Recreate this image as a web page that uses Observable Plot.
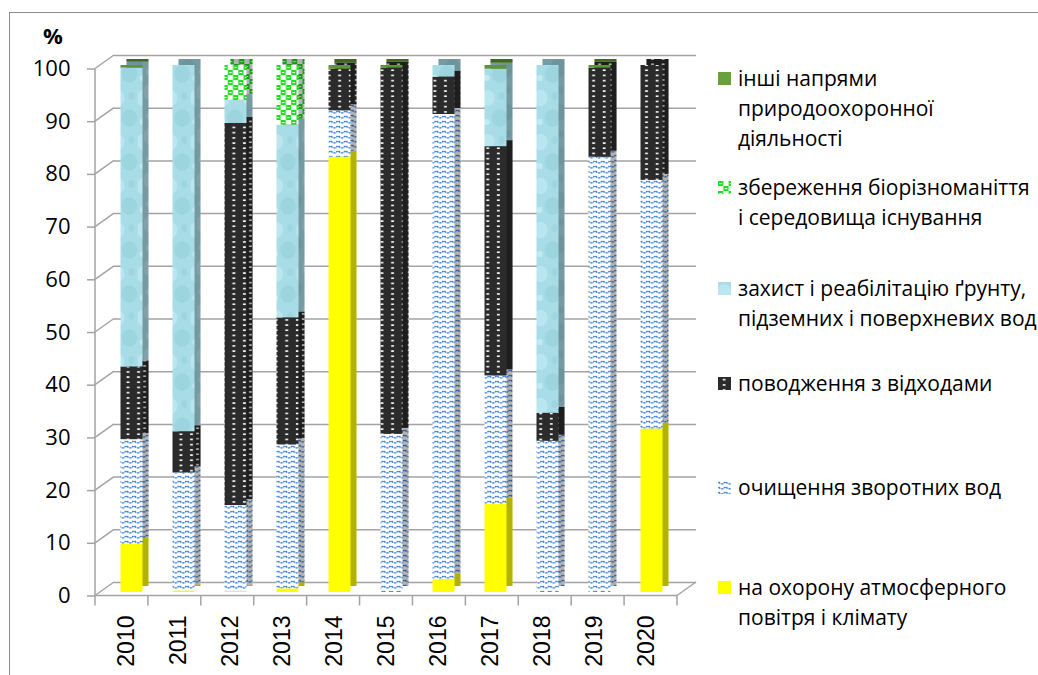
<!DOCTYPE html>
<html>
<head>
<meta charset="utf-8">
<script src="https://cdn.jsdelivr.net/npm/d3@7"></script>
<script src="https://cdn.jsdelivr.net/npm/@observablehq/plot@0.6"></script>
<style>
  html, body { margin: 0; padding: 0; overflow: hidden; background: #fff; }
  #wrap { position: relative; width: 1038px; height: 675px; overflow: hidden; }
  #wrap svg.chart { position: absolute; left: 0; top: 0; }
  .unit { position: absolute; left: 43px; top: 20px; font: bold 22px "Open Sans", sans-serif; color: #000; }
  .leg { position: absolute; left: 718px; font: 21px "Open Sans", sans-serif; color: #000; line-height: 30px; white-space: nowrap; }
  .leg svg { position: absolute; left: 0; top: 9px; }
  .leg .txt { position: absolute; left: 20px; top: 0; }
  .border { position: absolute; left: 9px; top: 12px; width: 1100px; height: 800px; border-left: 1px solid #8c8c8c; border-top: 1px solid #8c8c8c; }
</style>
</head>
<body>
<div id="wrap"><div class="border"></div></div>
<script>
// ---- data ----
const years = ["2010","2011","2012","2013","2014","2015","2016","2017","2018","2019","2020"];
const seriesNames = [
  "на охорону атмосферного повітря і клімату",
  "очищення зворотних вод",
  "поводження з відходами",
  "захист і реабілітацію ґрунту, підземних і поверхневих вод",
  "збереження біорізноманіття і середовища існування",
  "інші напрями природоохоронної діяльності"
];
const atmosphere   = [9.1, 0.3, 0.2, 0.7, 82.6, 0.0, 2.4, 16.7, 0.0, 0.0, 31.0];
const wastewater   = [19.9, 22.4, 16.3, 27.3, 8.8, 30.0, 88.3, 24.4, 28.7, 82.6, 47.2];
const waste        = [13.8, 7.8, 72.5, 24.1, 7.9, 69.5, 7.1, 43.5, 5.3, 16.9, 21.8];
const soilWater    = [56.7, 69.5, 4.4, 36.6, 0.0, 0.0, 2.2, 14.7, 66.0, 0.0, 0.0];
const biodiversity = [0.0, 0.0, 6.6, 11.3, 0.0, 0.0, 0.0, 0.0, 0.0, 0.0, 0.0];
const other        = [0.5, 0.0, 0.0, 0.0, 0.7, 0.5, 0.0, 0.7, 0.0, 0.5, 0.0];
const yTicks = [0,10,20,30,40,50,60,70,80,90,100];
const legendLines = [
  ["інші напрями", "природоохоронної", "діяльності"],
  ["збереження біорізноманіття", "і середовища існування"],
  ["захист і реабілітацію ґрунту,", "підземних і поверхневих вод"],
  ["поводження з відходами"],
  ["очищення зворотних вод"],
  ["на охорону атмосферного", "повітря і клімату"]
];
const seriesValues = [atmosphere, wastewater, waste, soilWater, biodiversity, other];
const fills = ["#ffff00", "url(#pWater)", "url(#pWaste)", "url(#pSoil)", "url(#pBio)", "#5e9437"];

const rows = years.flatMap((yr, i) => seriesNames.map((s, j) => ({year: yr, series: s, value: seriesValues[j][i]})));

// ---- layout ----
const W = 1038, H = 675;
const mL = 95, mR = 361, mT = 65, mB = 83;
const depthX = 19, depthY = -10, frontDy = 3.5;
const barShift = 5.5, barDepth = 6;
const grid = "#a3a3a3";
const step = (W - mL - mR) / years.length;

const plot = Plot.plot({
  width: W, height: H,
  marginLeft: mL, marginRight: mR, marginTop: mT, marginBottom: mB,
  x: {domain: years, paddingInner: 0.584, paddingOuter: 0.292, label: null},
  y: {domain: [0, 100], label: null},
  color: {domain: seriesNames, range: fills},
  marks: [
    Plot.ruleY(yTicks, {y: d => d, dx: depthX, dy: depthY, stroke: grid, strokeWidth: 1.5}),
    Plot.barY(rows, {x: "year", y: "value", fill: "series", dx: barShift + barDepth, dy: -barDepth}),
    Plot.barY(rows, {x: "year", y: "value", z: "series", fill: "#000", fillOpacity: 0.3, dx: barShift + barDepth, dy: -barDepth}),
    Plot.barY(rows, {x: "year", y: "value", fill: "series", dx: barShift}),
    Plot.axisY({ticks: yTicks, tickSize: 8, tickPadding: 17, dy: frontDy, stroke: grid, strokeWidth: 1.5,
                fontSize: 22, fontFamily: "Open Sans", fill: "#000", label: null}),
    Plot.axisX({tickSize: 0, tickRotate: -90, tickPadding: 23, fontSize: 23, fontFamily: "Liberation Sans", fill: "#000", label: null})
  ]
});
plot.classList.add("chart");
plot.style.overflow = "visible";

// pattern definitions
const svg = d3.select(plot);
const defs = svg.insert("defs", ":first-child");
{
  const pw = step / 7, ph = 5;
  const p = defs.append("pattern").attr("id", "pWater").attr("patternUnits", "userSpaceOnUse").attr("width", pw).attr("height", ph);
  p.append("rect").attr("width", pw).attr("height", ph).attr("fill", "#fff");
  p.append("path").attr("d", `M0.5,1.0 Q${pw/2},4.8 ${pw-0.5},1.0`).attr("fill", "none")
    .attr("stroke", "#1f6fd0").attr("stroke-width", 1.3).attr("stroke-dasharray", "2.2,0.9");
}
{
  const pw = step / 5, ph = 5.2;
  const p = defs.append("pattern").attr("id", "pWaste").attr("patternUnits", "userSpaceOnUse").attr("width", pw).attr("height", ph);
  p.append("rect").attr("width", pw).attr("height", ph).attr("fill", "#2b2b2b");
  p.append("rect").attr("x", 4.7).attr("y", 1.9).attr("width", 2.8).attr("height", 1.6).attr("fill", "#ffffff");
}
{
  const pw = step / 2;
  const p = defs.append("pattern").attr("id", "pSoil").attr("patternUnits", "userSpaceOnUse").attr("width", pw).attr("height", 44);
  p.append("rect").attr("width", pw).attr("height", 44).attr("fill", "#a8dde8");
  p.append("ellipse").attr("cx", 6).attr("cy", 10).attr("rx", 7).attr("ry", 8).attr("fill", "#c6edf4").attr("opacity", 0.6);
  p.append("ellipse").attr("cx", 18).attr("cy", 30).attr("rx", 8).attr("ry", 9).attr("fill", "#8cc7d3").attr("opacity", 0.4);
  p.append("ellipse").attr("cx", 20).attr("cy", 8).attr("rx", 3).attr("ry", 4).attr("fill", "#93ccd8").attr("opacity", 0.45);
  p.append("ellipse").attr("cx", 5).attr("cy", 34).attr("rx", 3).attr("ry", 3).attr("fill", "#d6f3f7").attr("opacity", 0.6);
}
{
  const pw = step / 5, ph = 10;
  const p = defs.append("pattern").attr("id", "pBio").attr("patternUnits", "userSpaceOnUse").attr("width", pw).attr("height", ph);
  p.append("rect").attr("width", pw).attr("height", ph).attr("fill", "#fff");
  p.append("rect").attr("x", 0).attr("y", 0).attr("width", pw/2).attr("height", ph/2).attr("fill", "#1ddf1d");
  p.append("rect").attr("x", pw/2).attr("y", ph/2).attr("width", pw/2).attr("height", ph/2).attr("fill", "#1ddf1d");
  p.append("rect").attr("x", 1.3).attr("y", 2).attr("width", 2.6).attr("height", 1.1).attr("fill", "#fff");
  p.append("rect").attr("x", pw/2 + 1.3).attr("y", ph/2 + 2).attr("width", 2.6).attr("height", 1.1).attr("fill", "#fff");
}

// 3D frame lines derived from the scales
const X = plot.scale("x"), Y = plot.scale("y");
const x0 = X.range[0], x1 = X.range[1];
const frame = svg.append("g").attr("stroke", grid).attr("stroke-width", 1.5).attr("fill", "none");
const line = (a, b, c, d) => frame.append("line").attr("x1", a).attr("y1", b).attr("x2", c).attr("y2", d);
line(x0, Y.apply(0) + frontDy, x0, Y.apply(100) + frontDy);
yTicks.forEach(t => line(x0, Y.apply(t) + frontDy, x0 + depthX, Y.apply(t) + depthY));
line(x0, Y.apply(0) + frontDy, x1, Y.apply(0) + frontDy);
line(x1, Y.apply(0) + frontDy, x1 + depthX, Y.apply(0) + depthY);
for (let k = 0; k <= years.length; k++) {
  const xx = x0 + k * step;
  line(xx, Y.apply(0) + frontDy, xx, Y.apply(0) + frontDy + 10);
}

const wrap = document.getElementById("wrap");
wrap.appendChild(plot);

const unit = document.createElement("div");
unit.className = "unit"; unit.textContent = "%";
wrap.appendChild(unit);

// legend (top to bottom = reversed stacking order)
const legendTop = [63, 172, 273, 368, 472, 572];
const legendFills = fills.slice().reverse();
legendLines.forEach((lines, i) => {
  const d = document.createElement("div");
  d.className = "leg";
  d.style.top = legendTop[i] + "px";
  const sw = d3.create("svg").attr("width", 13).attr("height", 13);
  sw.append("rect").attr("width", 13).attr("height", 13).attr("fill", legendFills[i] === "#5e9437" ? "#689f3f" : legendFills[i]);
  d.appendChild(sw.node());
  const t = document.createElement("div");
  t.className = "txt";
  t.innerHTML = lines.join("<br>");
  d.appendChild(t);
  wrap.appendChild(d);
});
</script>
</body>
</html>
